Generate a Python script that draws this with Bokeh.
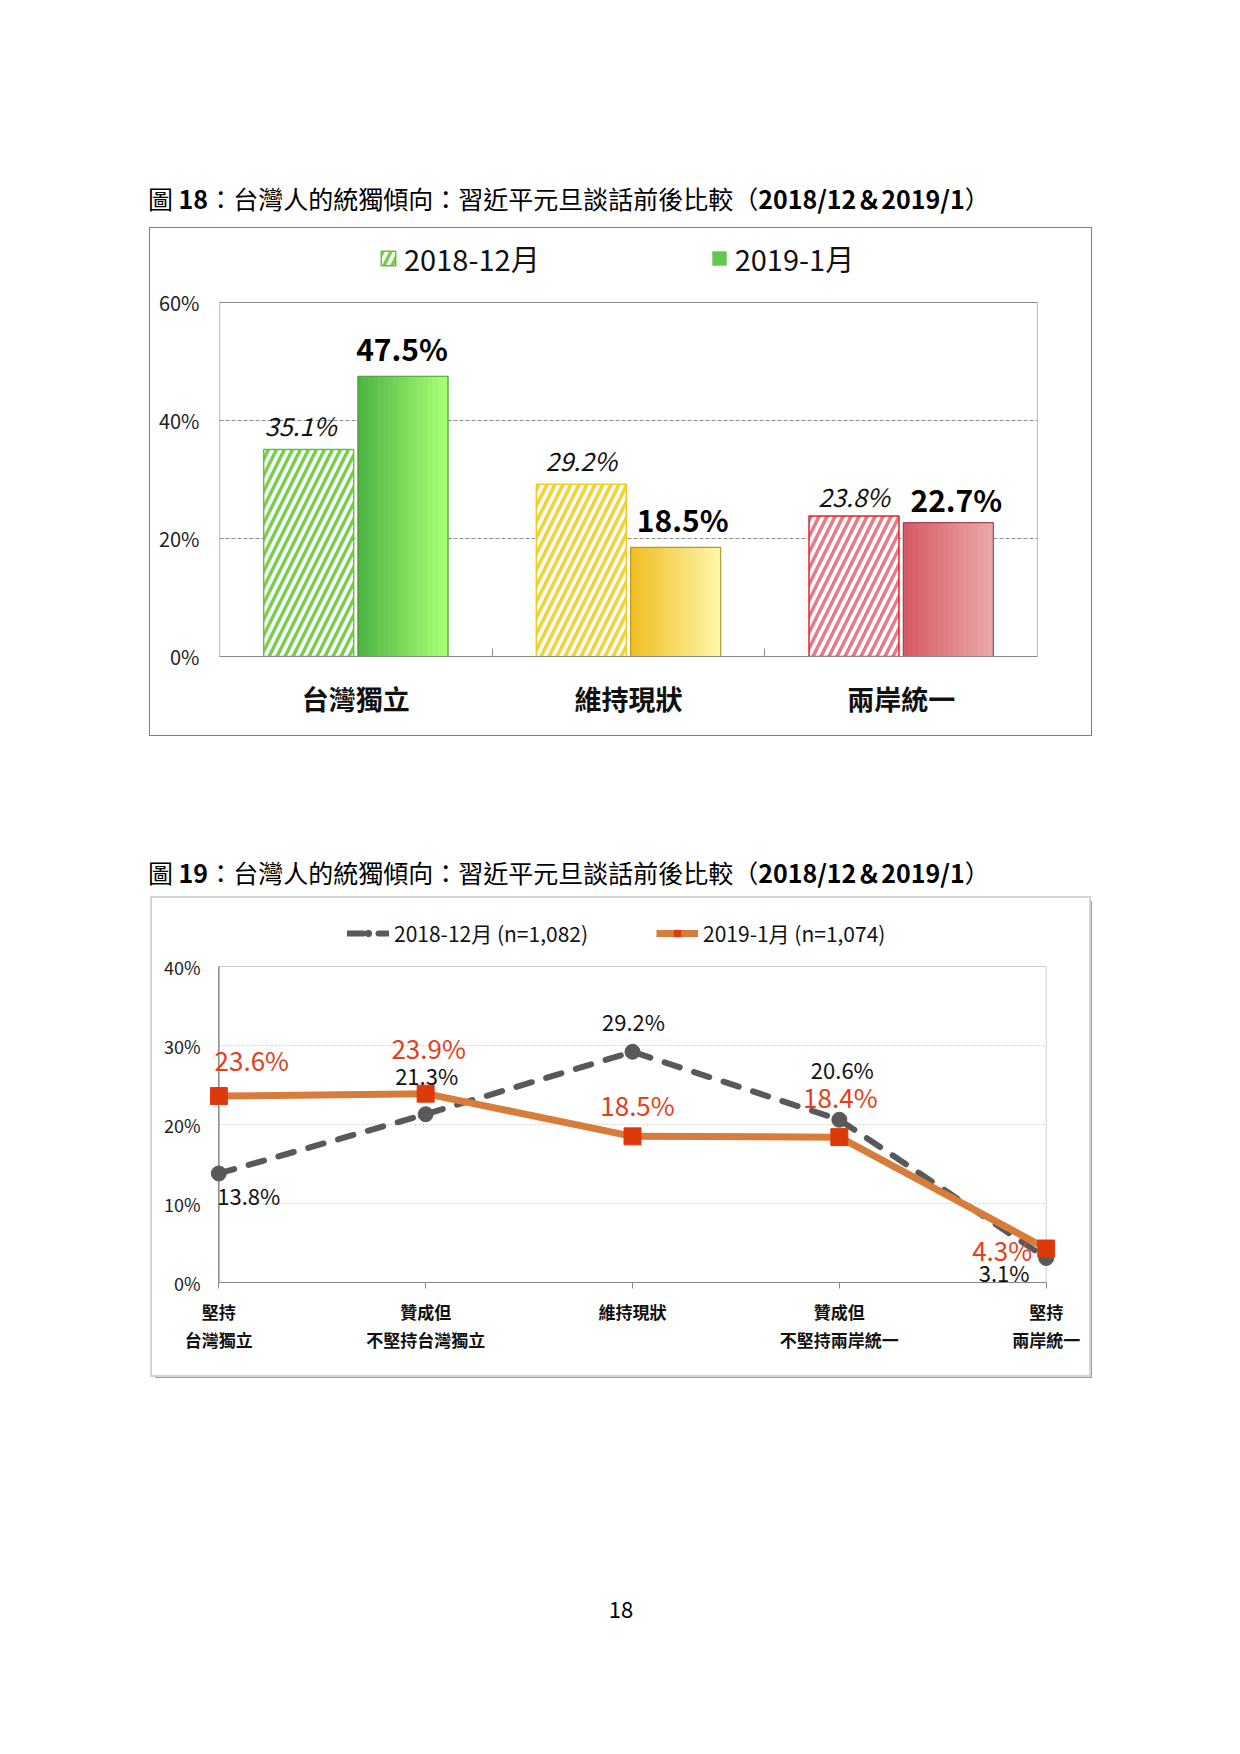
from bokeh.plotting import figure
from bokeh.models import (Range1d, FixedTicker, Legend, LegendItem, ColumnDataSource,
                          Div, Spacer, BoxAnnotation, LinearAxis, Grid)
from bokeh.layouts import column, row
from bokeh.core.properties import value
from bokeh.embed import file_html
from bokeh.resources import INLINE

# ---------------- data: chart 18 (bars) ----------------
bar_categories = ["台灣獨立", "維持現狀", "兩岸統一"]
bar_series_names = ["2018-12月", "2019-1月"]
bar_2018_12 = [35.1, 29.2, 23.8]
bar_2019_01 = [47.5, 18.5, 22.7]
bar_y_ticks = [0, 20, 40, 60]

# ---------------- data: chart 19 (lines) ----------------
line_labels_row1 = ["堅持", "贊成但", "維持現狀", "贊成但", "堅持"]
line_labels_row2 = ["台灣獨立", "不堅持台灣獨立", "", "不堅持兩岸統一", "兩岸統一"]
line_series_names = ["2018-12月 (n=1,082)", "2019-1月 (n=1,074)"]
line_2018_12 = [13.8, 21.3, 29.2, 20.6, 3.1]
line_2019_01 = [23.6, 23.9, 18.5, 18.4, 4.3]
line_y_ticks = [0, 10, 20, 30, 40]

title_18 = "圖 <b>18</b>：台灣人的統獨傾向：習近平元旦談話前後比較（<b>2018/12＆2019/1</b>）"
title_19 = "圖 <b>19</b>：台灣人的統獨傾向：習近平元旦談話前後比較（<b>2018/12＆2019/1</b>）"
page_number = "18"

CJK = "Noto Sans CJK TC"

# ---------------- styles ----------------
hatch_colors = ["#79cf4c", "#f4d233", "#e77a86"]
hatch_edge = ["#66c03b", "#f0cc2a", "#e3222c"]
grad_left = ["#4fb443", "#efbf25", "#d65a66"]
grad_right = ["#a8ff74", "#fff5a8", "#eaa7a8"]
solid_edge = ["#4a9a3a", "#b59a2c", "#9c4c52"]
# label nudges (screen px)
hatch_label_dx = [-8, 0, 0]
hatch_label_dy = [-24, -24, -20]
solid_label_dx = [-1, 7, 8]
solid_label_dy = [-28, -28, -24]


def mix(c1, c2, t):
    a = [int(c1[i:i + 2], 16) for i in (1, 3, 5)]
    b = [int(c2[i:i + 2], 16) for i in (1, 3, 5)]
    return "#%02x%02x%02x" % tuple(round(a[k] + (b[k] - a[k]) * t) for k in range(3))


HAS_CROSS = "cross_bounds" in Grid.properties()

# ================= chart 18 =================
# the frame is extended upward so that the legend (drawn inside the frame) is not clipped;
# the visible plot area (0..60) is outlined by a box annotation.
H1, TOP1, BOT1, AREA1 = 507, 5, 79, 354
y1_end = bar_y_ticks[-1] * (H1 - TOP1 - BOT1) / AREA1

xs = list(range(len(bar_categories)))
p1 = figure(width=941, height=H1, x_range=Range1d(-0.5, 2.5), y_range=Range1d(0, y1_end),
            output_backend="svg", toolbar_location=None,
            min_border_left=69, min_border_right=54, min_border_top=TOP1, min_border_bottom=BOT1)
p1.outline_line_color = None
p1.border_fill_color = "white"
p1.background_fill_color = "white"
p1.styles = {"outline": "1px solid #7f7f7f"}

p1.xgrid.visible = False
p1.ygrid.ticker = FixedTicker(ticks=[20, 40])
p1.ygrid.grid_line_color = "#8c8c8c"
p1.ygrid.grid_line_dash = "4 2"

p1.add_layout(BoxAnnotation(left=-0.5, right=2.5, bottom=0, top=bar_y_ticks[-1],
                            fill_color=None, fill_alpha=0, line_color="#8a8a8a",
                            line_alpha=1, line_width=1.2, level="underlay"))

bw = 0.33
off = 0.173

src_h = ColumnDataSource(dict(
    x=[x - off for x in xs], top=bar_2018_12, hc=hatch_colors, ec=hatch_edge,
    label=[f"{v}%" for v in bar_2018_12], dx=hatch_label_dx, dy=hatch_label_dy))
r_h = p1.vbar(x="x", top="top", bottom=0, width=bw, source=src_h, fill_color="white",
              hatch_pattern="/", hatch_color="hc", hatch_scale=16, hatch_weight=3.5,
              line_color="ec", line_width=1.5)

N = 18
slice_renderers = []
for i in range(N):
    t = i / (N - 1)
    cols = [mix(grad_left[k], grad_right[k], t) for k in range(3)]
    xo = off - bw / 2 + (i + 0.5) * bw / N
    s = ColumnDataSource(dict(x=[x + xo for x in xs], top=bar_2019_01, c=cols))
    r = p1.vbar(x="x", top="top", bottom=0, width=bw / N * 1.15, source=s,
                fill_color="c", line_color=None)
    slice_renderers.append(r)

src_s = ColumnDataSource(dict(x=[x + off for x in xs], top=bar_2019_01, ec=solid_edge,
                              label=[f"{v}%" for v in bar_2019_01],
                              dx=solid_label_dx, dy=solid_label_dy))
p1.vbar(x="x", top="top", bottom=0, width=bw, source=src_s, fill_color=None,
        line_color="ec", line_width=1.2)

p1.text(x="x", y="top", text="label", source=src_h, text_align="center",
        text_baseline="middle", x_offset="dx", y_offset="dy", text_font=value(CJK),
        text_font_size="25px", text_font_style="italic", text_color="#111111")
p1.text(x="x", y="top", text="label", source=src_s, text_align="center",
        text_baseline="middle", x_offset="dx", y_offset="dy", text_font=value(CJK),
        text_font_size="30px", text_font_style="bold", text_color="#000000")

p1.xaxis.ticker = FixedTicker(ticks=xs, minor_ticks=[0.5, 1.5])
p1.xaxis.major_label_overrides = {x: c for x, c in zip(xs, bar_categories)}
p1.xaxis.major_tick_in = 0
p1.xaxis.major_tick_out = 0
p1.xaxis.minor_tick_in = 8
p1.xaxis.minor_tick_out = 0
p1.xaxis.minor_tick_line_color = "#8a8a8a"
p1.xaxis.axis_line_color = "#8a8a8a"
p1.xaxis.major_label_text_font = CJK
p1.xaxis.major_label_text_font_size = "27px"
p1.xaxis.major_label_text_font_style = "bold"
p1.xaxis.major_label_text_color = "#111111"
p1.xaxis.major_label_standoff = 22

p1.yaxis.ticker = FixedTicker(ticks=bar_y_ticks)
p1.yaxis.major_label_overrides = {t: f"{t}%" for t in bar_y_ticks}
p1.yaxis.major_tick_in = 0
p1.yaxis.major_tick_out = 0
p1.yaxis.minor_tick_line_color = None
p1.yaxis.axis_line_color = None
p1.yaxis.major_label_standoff = 20
p1.yaxis.major_label_text_font = CJK
p1.yaxis.major_label_text_font_size = "20px"
p1.yaxis.major_label_text_color = "#222222"

legend1 = Legend(items=[
    LegendItem(label=bar_series_names[0], renderers=[r_h], index=0),
    LegendItem(label=bar_series_names[1], renderers=[slice_renderers[N // 4]], index=0)],
    orientation="horizontal", location=(160, 377), glyph_width=18, glyph_height=18,
    label_standoff=7, spacing=170, padding=0, margin=0, border_line_color=None,
    background_fill_alpha=0, label_text_font=CJK, label_text_font_size="29px",
    label_text_color="#111111")
p1.add_layout(legend1)

# ================= chart 19 =================
H2, TOP2, BOT2, AREA2 = 477, 5, 93, 316
y2_end = line_y_ticks[-1] * (H2 - TOP2 - BOT2) / AREA2

lx = list(range(len(line_2018_12)))
p2 = figure(width=937, height=H2, x_range=Range1d(-0.045, 4.045), y_range=Range1d(0, y2_end),
            output_backend="svg", toolbar_location=None,
            min_border_left=57, min_border_right=34, min_border_top=TOP2, min_border_bottom=BOT2)
p2.outline_line_color = None
p2.border_fill_color = "white"
p2.background_fill_color = "white"
p2.styles = {"outline": "2px solid #d4d4d4", "box-shadow": "3px 3px 0 #a0a0a0"}

p2.xgrid.visible = False
p2.ygrid.ticker = FixedTicker(ticks=[10, 20, 30])
p2.ygrid.grid_line_color = "#d0d0d0"
p2.ygrid.grid_line_dash = "2 2"
if HAS_CROSS:
    p2.ygrid.cross_bounds = (0, 4)

p2.add_layout(BoxAnnotation(left=0, right=4, bottom=0, top=line_y_ticks[-1], fill_color=None,
                            fill_alpha=0, line_color="#d0d0d0", line_alpha=1, line_width=1,
                            level="underlay"))
p2.add_layout(BoxAnnotation(left=0, right=0, bottom=0, top=line_y_ticks[-1], fill_color=None,
                            fill_alpha=0, line_color="#888888", line_alpha=1, line_width=1,
                            level="underlay"))

grey_dx = [30, 1, 1, 3, -42]
grey_dy = [22, -39, -31, -51, 14]
orange_dx = [33, 3, 5, 1, -44]
orange_dy = [-37, -46, -32, -41, 1]

src_a = ColumnDataSource(dict(x=lx, y=line_2018_12, label=[f"{v}%" for v in line_2018_12],
                              dx=grey_dx, dy=grey_dy))
src_b = ColumnDataSource(dict(x=lx, y=line_2019_01, label=[f"{v}%" for v in line_2019_01],
                              dx=orange_dx, dy=orange_dy))

ra_line = p2.line("x", "y", source=src_a, line_color="#595959", line_width=6,
                  line_dash="16 15", line_cap="round")
ra_pt = p2.scatter("x", "y", source=src_a, marker="circle", size=15,
                   fill_color="#595959", line_color="#595959")
rb_line = p2.line("x", "y", source=src_b, line_color="#d77c3b", line_width=7)
rb_pt = p2.scatter("x", "y", source=src_b, marker="square", size=17,
                   fill_color="#dd3a0c", line_color="#dd3a0c")

p2.text(x="x", y="y", text="label", source=src_a, x_offset="dx", y_offset="dy",
        text_align="center", text_baseline="middle", text_font=value(CJK),
        text_font_size="22px", text_color="#111111")
p2.text(x="x", y="y", text="label", source=src_b, x_offset="dx", y_offset="dy",
        text_align="center", text_baseline="middle", text_font=value(CJK),
        text_font_size="26px", text_color="#e2401a")

p2.yaxis.ticker = FixedTicker(ticks=line_y_ticks)
p2.yaxis.major_label_overrides = {t: f"{t}%" for t in line_y_ticks}
p2.yaxis.major_tick_in = 0
p2.yaxis.major_tick_out = 0
p2.yaxis.minor_tick_line_color = None
p2.yaxis.axis_line_color = None
p2.yaxis.major_label_standoff = 9
p2.yaxis.major_label_text_font = CJK
p2.yaxis.major_label_text_font_size = "18px"
p2.yaxis.major_label_text_color = "#222222"

p2.xaxis.ticker = FixedTicker(ticks=lx)
p2.xaxis.major_label_overrides = {x: c for x, c in zip(lx, line_labels_row1)}
p2.xaxis.bounds = (0, 4)
p2.xaxis.major_tick_in = 0
p2.xaxis.major_tick_out = 6
p2.xaxis.major_tick_line_color = "#888888"
p2.xaxis.minor_tick_line_color = None
p2.xaxis.axis_line_color = "#888888"
p2.xaxis.major_label_standoff = 10
p2.xaxis.major_label_text_font = CJK
p2.xaxis.major_label_text_font_size = "17px"
p2.xaxis.major_label_text_font_style = "bold"
p2.xaxis.major_label_text_color = "#111111"

ax2 = LinearAxis(ticker=FixedTicker(ticks=lx),
                 major_label_overrides={x: c for x, c in zip(lx, line_labels_row2)},
                 axis_line_color=None, major_tick_line_color=None, minor_tick_line_color=None,
                 major_tick_in=0, major_tick_out=0,
                 major_label_standoff=0, major_label_text_font=CJK,
                 major_label_text_font_size="17px", major_label_text_font_style="bold",
                 major_label_text_color="#111111")
p2.add_layout(ax2, "below")

legend2 = Legend(items=[
    LegendItem(label=line_series_names[0], renderers=[ra_line, ra_pt]),
    LegendItem(label=line_series_names[1], renderers=[rb_line, rb_pt])],
    orientation="horizontal", location=(138, 334), glyph_width=42, glyph_height=16,
    label_standoff=5, spacing=68, padding=0, margin=0, border_line_color=None,
    background_fill_alpha=0, label_text_font=CJK, label_text_font_size="21px",
    label_text_color="#111111")
p2.add_layout(legend2)

# ================= page =================
def title_div(html):
    return Div(text=f'<div style="font-family:\'{CJK}\';font-size:25px;line-height:40px;'
                    f'white-space:nowrap;color:#000;">{html}</div>', width=1040, height=40)


page_div = Div(text=f'<div style="font-family:\'{CJK}\';font-size:22px;line-height:40px;'
                    f'text-align:center;width:1232px;color:#000;">{page_number}</div>',
               width=1232, height=40)

layout = column(
    Spacer(height=173),
    row(Spacer(width=143), title_div(title_18)),
    Spacer(height=5),
    row(Spacer(width=150), p1),
    Spacer(height=112),
    row(Spacer(width=143), title_div(title_19)),
    Spacer(height=1),
    row(Spacer(width=152), p2),
    Spacer(height=208),
    page_div,
)

open("out.html", "w").write(file_html(layout, INLINE))
